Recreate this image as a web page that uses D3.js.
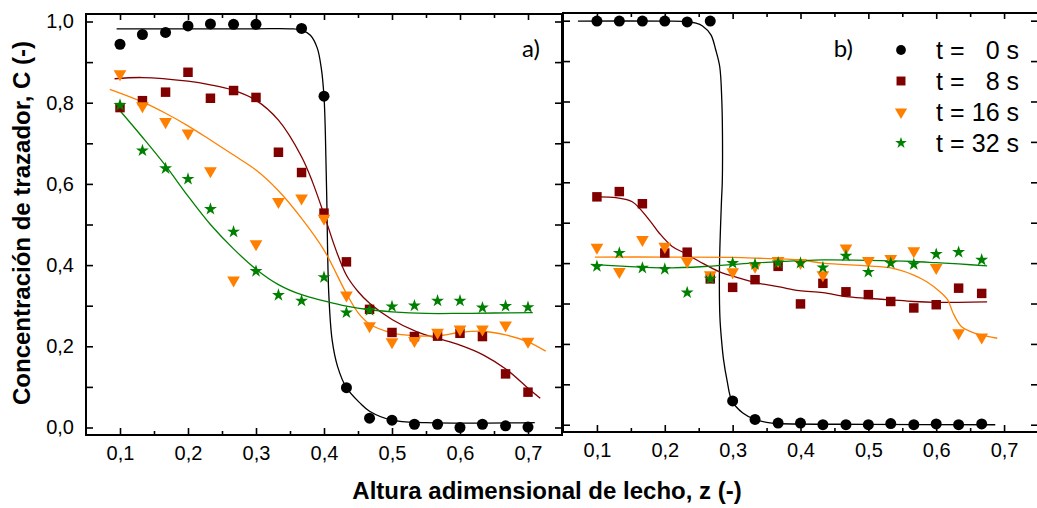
<!DOCTYPE html>
<html><head><meta charset="utf-8">
<script src="https://cdn.jsdelivr.net/npm/d3@7"></script>
<style>body{margin:0;background:#fff}svg{display:block}</style>
</head><body>
<svg id="chart" width="1037" height="508"></svg>
<script>
// ---------- tick labels ----------
const xTicks = [0.1, 0.2, 0.3, 0.4, 0.5, 0.6, 0.7];
const xTickLabels = ["0,1", "0,2", "0,3", "0,4", "0,5", "0,6", "0,7"];
const xMinorTicks = [0.15, 0.25, 0.35, 0.45, 0.55, 0.65];
const yTicks = [0, 0.2, 0.4, 0.6, 0.8, 1.0];
const yTickLabels = ["0,0", "0,2", "0,4", "0,6", "0,8", "1,0"];
const yMinorTicks = [0.1, 0.3, 0.5, 0.7, 0.9];

// ---------- series ----------
const seriesNames = ["0 s", "8 s", "16 s", "32 s"];
const seriesColors = ["#000000", "#800000", "#FF8000", "#008000"];

// panel a) measured points
const zA = [0.100, 0.133, 0.167, 0.200, 0.233, 0.267, 0.300, 0.333, 0.367, 0.400, 0.433, 0.467, 0.500, 0.533, 0.567, 0.600, 0.633, 0.667, 0.700];
const a_t0  = [0.944, 0.968, 0.973, 0.989, 0.994, 0.993, 0.993, null, 0.983, 0.816, 0.098, 0.023, 0.018, 0.008, 0.008, 0.000, 0.008, 0.004, 0.001];
const a_t8  = [0.788, 0.805, 0.826, 0.875, 0.811, 0.830, 0.813, 0.678, 0.628, 0.528, 0.408, 0.291, 0.234, 0.224, 0.225, 0.232, 0.224, 0.132, 0.087];
const a_t16 = [0.871, 0.792, 0.753, 0.725, 0.632, 0.363, 0.452, 0.556, 0.565, 0.515, 0.326, 0.250, 0.211, 0.214, 0.234, 0.242, 0.242, 0.252, 0.212];
const a_t32 = [0.794, 0.682, 0.638, 0.612, 0.538, 0.482, 0.385, 0.326, 0.312, 0.370, 0.283, 0.289, 0.298, 0.300, 0.312, 0.312, 0.295, 0.299, 0.296];

// panel a) fitted curves (read from picture)
const a_fit0_z = [0.095, 0.200, 0.300, 0.350, 0.367, 0.380, 0.390, 0.396, 0.400, 0.402, 0.404, 0.407, 0.412, 0.420, 0.433, 0.453, 0.467, 0.500, 0.550, 0.710];
const a_fit0_c = [0.982, 0.982, 0.982, 0.982, 0.979, 0.966, 0.935, 0.885, 0.815, 0.725, 0.570, 0.330, 0.215, 0.150, 0.098, 0.060, 0.040, 0.018, 0.012, 0.012];
const a_fit8_z = [0.092, 0.133, 0.200, 0.233, 0.266, 0.299, 0.333, 0.367, 0.383, 0.400, 0.417, 0.433, 0.450, 0.467, 0.500, 0.536, 0.566, 0.600, 0.634, 0.669, 0.698, 0.718];
const a_fit8_c = [0.859, 0.862, 0.853, 0.844, 0.831, 0.807, 0.757, 0.667, 0.605, 0.525, 0.440, 0.375, 0.335, 0.306, 0.266, 0.236, 0.220, 0.203, 0.179, 0.142, 0.100, 0.072];
const a_fit16_z = [0.085, 0.133, 0.167, 0.200, 0.233, 0.267, 0.300, 0.333, 0.367, 0.400, 0.433, 0.450, 0.467, 0.500, 0.533, 0.567, 0.600, 0.633, 0.667, 0.700, 0.726];
const a_fit16_c = [0.833, 0.802, 0.774, 0.743, 0.708, 0.671, 0.634, 0.583, 0.515, 0.437, 0.330, 0.283, 0.255, 0.233, 0.226, 0.226, 0.234, 0.237, 0.228, 0.211, 0.188];
const a_fit32_z = [0.095, 0.133, 0.167, 0.200, 0.233, 0.267, 0.300, 0.333, 0.367, 0.400, 0.433, 0.467, 0.500, 0.550, 0.600, 0.650, 0.707];
const a_fit32_c = [0.790, 0.715, 0.645, 0.570, 0.500, 0.440, 0.390, 0.352, 0.327, 0.312, 0.299, 0.290, 0.285, 0.281, 0.281, 0.282, 0.283];

// panel b) measured points
const zB = [0.100, 0.133, 0.167, 0.200, 0.233, 0.267, 0.300, 0.333, 0.367, 0.400, 0.433, 0.467, 0.500, 0.533, 0.567, 0.600, 0.633, 0.667];
const b_t0  = [0.999, 0.999, 0.999, 0.999, 0.997, 0.999, 0.059, 0.013, 0.004, 0.004, 0.000, 0.000, 0.000, 0.003, 0.000, 0.002, 0.000, 0.002];
const b_t8  = [0.564, 0.577, 0.547, 0.425, 0.427, 0.361, 0.340, 0.359, 0.392, 0.299, 0.350, 0.329, 0.322, 0.305, 0.289, 0.297, 0.338, 0.325];
const b_t16 = [0.439, 0.379, 0.458, 0.441, 0.404, 0.371, 0.378, 0.392, 0.406, 0.401, 0.371, 0.437, 0.406, 0.411, 0.430, 0.389, 0.227, 0.217];
const b_t32 = [0.392, 0.425, 0.388, 0.385, 0.327, 0.361, 0.400, 0.397, 0.401, 0.400, 0.389, 0.418, 0.378, 0.400, 0.397, 0.422, 0.427, 0.408];

// panel b) fitted curves
const b_fit0_z = [0.072, 0.200, 0.231, 0.246, 0.2556, 0.268, 0.275, 0.281, 0.284, 0.285, 0.2847, 0.2836, 0.2806, 0.2812, 0.2836, 0.2866, 0.2916, 0.299, 0.315, 0.333, 0.350, 0.367, 0.500, 0.687];
const b_fit0_c = [0.999, 0.999, 0.998, 0.994, 0.987, 0.965, 0.928, 0.886, 0.804, 0.721, 0.598, 0.556, 0.391, 0.268, 0.210, 0.161, 0.111, 0.059, 0.029, 0.013, 0.006, 0.003, 0.001, 0.000];
const b_fit8_z = [0.102, 0.128, 0.152, 0.177, 0.192, 0.211, 0.229, 0.251, 0.280, 0.310, 0.339, 0.369, 0.398, 0.433, 0.467, 0.498, 0.533, 0.567, 0.600, 0.633, 0.675];
const b_fit8_c = [0.564, 0.562, 0.552, 0.507, 0.474, 0.441, 0.425, 0.404, 0.379, 0.363, 0.350, 0.341, 0.332, 0.327, 0.317, 0.313, 0.309, 0.305, 0.303, 0.303, 0.304];
const b_fit16_z = [0.097, 0.200, 0.300, 0.339, 0.398, 0.433, 0.498, 0.533, 0.566, 0.586, 0.605, 0.617, 0.625, 0.637, 0.650, 0.664, 0.690];
const b_fit16_c = [0.415, 0.415, 0.414, 0.412, 0.408, 0.400, 0.393, 0.388, 0.371, 0.354, 0.330, 0.309, 0.276, 0.243, 0.231, 0.223, 0.214];
const b_fit32_z = [0.091, 0.143, 0.200, 0.263, 0.329, 0.398, 0.433, 0.498, 0.566, 0.600, 0.633, 0.675];
const b_fit32_c = [0.397, 0.392, 0.388, 0.392, 0.400, 0.406, 0.408, 0.407, 0.404, 0.401, 0.398, 0.393];

// ---------- drawing ----------
const svg = d3.select("#chart");
const FONT = "'Liberation Sans', Arial, sans-serif";

const symbols = [
  d3.symbol().type(d3.symbolCircle).size(95),
  d3.symbol().type(d3.symbolSquare).size(90),
  d3.symbol().type(d3.symbolTriangle).size(70),
  d3.symbol().type(d3.symbolStar).size(52)
];
const symbolRot = [0, 0, 180, 0];

function panel(p) {
  const x = d3.scaleLinear().domain([0.05, 0.75]).range([p.left, p.right]);
  const y = d3.scaleLinear().domain([p.yMin, p.yMax]).range([p.bottom, p.top]);
  const g = svg.append("g");

  // fitted curves
  const line = d3.line().x(d => x(d[0])).y(d => y(d[1])).curve(d3.curveCatmullRom.alpha(0.5));
  p.fits.forEach((f, i) => {
    g.append("path").attr("d", line(d3.zip(f[0], f[1])))
      .attr("fill", "none").attr("stroke", seriesColors[i]).attr("stroke-width", 1.3);
  });

  // markers
  p.series.forEach((vals, i) => {
    const pts = d3.zip(p.z, vals).filter(d => d[1] !== null);
    g.append("g").selectAll("path").data(pts).join("path")
      .attr("d", symbols[i])
      .attr("transform", d => `translate(${x(d[0])},${y(d[1])}) rotate(${symbolRot[i]})`)
      .attr("fill", seriesColors[i]);
  });

  // axes (inward ticks)
  const mk = (axis, tx, ty) => {
    const a = g.append("g").attr("transform", `translate(${tx},${ty})`).call(axis);
    a.select(".domain").remove();
    a.selectAll("line").attr("stroke", "#000").attr("stroke-width", 1.6);
    a.attr("font-family", FONT).attr("font-size", 20);
    return a;
  };
  mk(d3.axisBottom(x).tickValues(xTicks).tickSize(-7).tickPadding(11)
       .tickFormat((d, i) => xTickLabels[i]), 0, p.bottom);
  mk(d3.axisBottom(x).tickValues(xMinorTicks).tickSize(-4).tickFormat(""), 0, p.bottom);
  mk(d3.axisTop(x).tickValues(xTicks).tickSize(-6).tickFormat(""), 0, p.top);
  mk(d3.axisTop(x).tickValues(xMinorTicks).tickSize(-4).tickFormat(""), 0, p.top);
  mk(d3.axisLeft(y).tickValues(yTicks).tickSize(-7).tickPadding(12)
       .tickFormat(p.yLabels ? ((d, i) => yTickLabels[i]) : ""), p.left, 0);
  mk(d3.axisLeft(y).tickValues(yMinorTicks).tickSize(-7).tickFormat(""), p.left, 0);
  mk(d3.axisRight(y).tickValues(yTicks).tickSize(-7).tickFormat(""), p.right, 0);
  mk(d3.axisRight(y).tickValues(yMinorTicks).tickSize(-7).tickFormat(""), p.right, 0);

  // frame
  g.append("rect").attr("x", p.left).attr("y", p.top)
    .attr("width", p.right - p.left).attr("height", p.bottom - p.top)
    .attr("fill", "none").attr("stroke", "#000").attr("stroke-width", 2);

  // panel label
  g.append("text").attr("x", p.labelX).attr("y", 57).attr("text-anchor", "end")
    .attr("font-family", "Lato, 'Open Sans', sans-serif").attr("font-size", 24)
    .text(p.label);
  return { x, y, g };
}

panel({
  left: 86, right: 562, top: 14, bottom: 435, yMin: -0.0185, yMax: 1.0185,
  z: zA, series: [a_t0, a_t8, a_t16, a_t32],
  fits: [[a_fit0_z, a_fit0_c], [a_fit8_z, a_fit8_c], [a_fit16_z, a_fit16_c], [a_fit32_z, a_fit32_c]],
  yLabels: true, label: "a)", labelX: 540
});
panel({
  left: 563, right: 1038, top: 13, bottom: 432, yMin: -0.018, yMax: 1.019,
  z: zB, series: [b_t0, b_t8, b_t16, b_t32],
  fits: [[b_fit0_z, b_fit0_c], [b_fit8_z, b_fit8_c], [b_fit16_z, b_fit16_c], [b_fit32_z, b_fit32_c]],
  yLabels: false, label: "b)", labelX: 853
});

// legend
const legendY = [50, 81, 112, 143];
const legendSymbols = [
  d3.symbol().type(d3.symbolCircle).size(75),
  d3.symbol().type(d3.symbolSquare).size(80),
  d3.symbol().type(d3.symbolTriangle).size(65),
  d3.symbol().type(d3.symbolStar).size(42)
];
const lg = svg.append("g").attr("font-family", FONT).attr("font-size", 25);
seriesNames.forEach((name, i) => {
  lg.append("path").attr("d", legendSymbols[i])
    .attr("transform", `translate(901,${legendY[i]}) rotate(${symbolRot[i]})`)
    .attr("fill", seriesColors[i]);
  lg.append("text").attr("x", 936).attr("y", legendY[i] + 9).text("t =");
  lg.append("text").attr("x", 1019).attr("y", legendY[i] + 9).attr("text-anchor", "end").text(name);
});

// axis titles
svg.append("text").attr("x", 547).attr("y", 499).attr("text-anchor", "middle")
  .attr("font-family", FONT).attr("font-weight", "bold").attr("font-size", 24)
  .text("Altura adimensional de lecho, z (-)");
svg.append("text").attr("transform", "translate(30,223) rotate(-90)").attr("text-anchor", "middle")
  .attr("font-family", FONT).attr("font-weight", "bold").attr("font-size", 24)
  .text("Concentración de trazador, C (-)");
</script>
</body></html>
